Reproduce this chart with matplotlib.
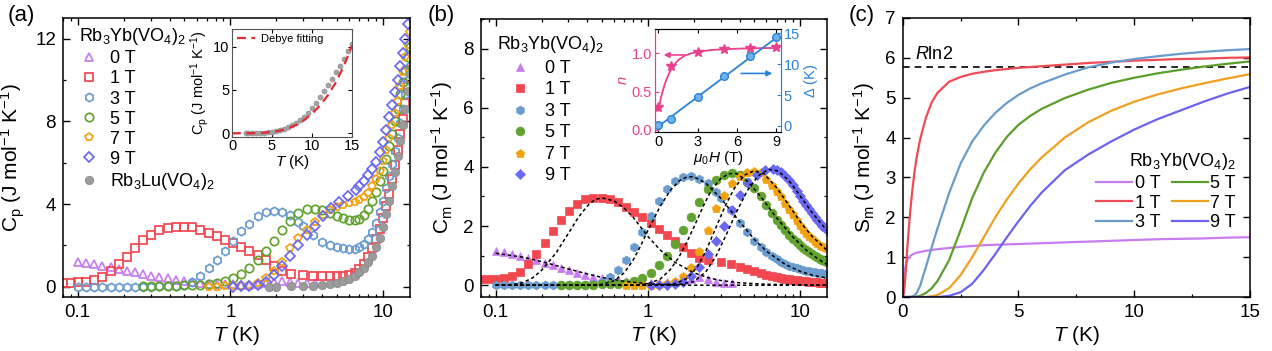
import matplotlib
matplotlib.use("Agg")
import matplotlib.pyplot as plt
from matplotlib.ticker import MultipleLocator, FixedLocator, FixedFormatter, LogLocator, NullFormatter

plt.rcParams["font.family"] = ["Liberation Sans", "DejaVu Sans"]
plt.rcParams["mathtext.fontset"] = "custom"
plt.rcParams["mathtext.rm"] = "Liberation Sans"
plt.rcParams["mathtext.it"] = "Liberation Sans:italic"
plt.rcParams["mathtext.bf"] = "Liberation Sans:bold"
plt.rcParams["xtick.direction"] = "in"
plt.rcParams["ytick.direction"] = "in"
plt.rcParams["xtick.top"] = True
plt.rcParams["ytick.right"] = True
plt.rcParams["axes.linewidth"] = 1.1

# ---------------- data ----------------
# temperature grids (K)
t_log = [0.080, 0.090, 0.100, 0.113, 0.128, 0.145, 0.164, 0.185, 0.210, 0.237,
         0.268, 0.303, 0.343, 0.388, 0.439, 0.497, 0.562, 0.636, 0.719, 0.813,
         0.920, 1.04, 1.18, 1.33, 1.51, 1.70, 1.93, 2.18, 2.47, 2.79,
         3.16, 3.57, 4.04, 4.57, 5.17, 5.85, 6.61]
t_step = [2.0, 2.5, 3.0, 3.5, 4.0, 4.5, 5.0, 5.5, 6.0, 6.5, 7.0, 7.5, 8.0, 8.5,
          9.0, 9.5, 10.0, 10.5, 11.0, 11.5, 12.0, 12.5, 13.0, 13.5, 14.0, 14.5, 15.0]

t_0T = t_log[2:32]
t_1T = t_log[0:28] + t_step[1:]
t_3T = t_log[2:30] + t_step[2:]
t_5T = t_log[10:32] + t_step[4:]
t_7T = t_log[18:33] + t_step[5:]
t_9T = t_log[21:37] + t_step[10:]
t_gray = [1.8] + t_step

# panel (a): total specific heat Cp
cp_0T = [1.20, 1.15, 1.08, 1.00, 0.93, 0.86, 0.78, 0.70, 0.62, 0.54,
         0.47, 0.40, 0.33, 0.27, 0.22, 0.18, 0.15, 0.13, 0.12, 0.11,
         0.10, 0.10, 0.12, 0.16, 0.22, 0.28, 0.24, 0.18, 0.16, 0.16]
cp_1T = [0.20, 0.20, 0.21, 0.24, 0.30, 0.45, 0.75, 1.10, 1.45, 1.85,
         2.25, 2.50, 2.72, 2.84, 2.88, 2.90, 2.88, 2.75, 2.60, 2.45,
         2.28, 2.10, 1.92, 1.72, 1.52, 1.30, 1.02, 0.76] + \
        [0.62, 0.55, 0.52, 0.50, 0.50, 0.50, 0.52, 0.58, 0.68, 0.85,
         1.12, 1.45, 1.85, 2.30, 2.80, 3.30, 3.90, 4.50, 5.20, 5.90,
         6.60, 7.40, 8.10, 8.90, 9.70, 10.50]
cp_3T = [0.00, 0.00, 0.00, 0.00, 0.00, 0.00, 0.00, 0.00, 0.00, 0.00, 0.01, 0.01,
         0.02, 0.10, 0.25, 0.50, 0.88, 1.28, 1.72, 2.20, 2.68, 3.05, 3.40, 3.60,
         3.66, 3.63, 3.45, 3.15] + \
        [2.95, 2.50, 2.18, 2.00, 1.90, 1.85, 1.83, 1.84, 1.90, 2.05,
         2.30, 2.65, 3.10, 3.60, 4.15, 4.75, 5.35, 5.95, 6.55, 7.20,
         7.90, 8.60, 9.30, 10.00, 10.70]
cp_5T = [0.03, 0.03, 0.04, 0.04, 0.05, 0.06, 0.07, 0.09, 0.12, 0.18, 0.28,
         0.42, 0.62, 0.90, 1.30, 1.75, 2.20, 2.72, 3.20, 3.55, 3.74, 3.77] + \
        [3.70, 3.56, 3.42, 3.30, 3.24, 3.22, 3.28, 3.45, 3.75, 4.15, 4.60, 5.10,
         5.60, 6.20, 6.80, 7.40, 8.00, 8.60, 9.30, 9.90, 10.50, 11.10, 11.60]
cp_7T = [0.00, 0.00, 0.01, 0.02, 0.05, 0.10, 0.20, 0.40, 0.75, 1.20, 1.85,
         2.35, 2.75, 3.15, 3.45] + \
        [3.70, 3.85, 3.95, 4.03, 4.10, 4.20, 4.35, 4.55, 4.85, 5.20, 5.60,
         6.10, 6.60, 7.20, 7.80, 8.40, 9.00, 9.70, 10.40, 11.10, 11.70, 12.30]
cp_9T = [0.00, 0.01, 0.03, 0.08, 0.22, 0.55, 1.00, 1.50, 2.00, 2.52, 2.95,
         3.40, 3.80, 4.12, 4.38, 4.66] + \
        [4.85, 5.10, 5.40, 5.70, 6.05, 6.50, 7.00, 7.60, 8.20, 8.80, 9.40,
         10.00, 10.70, 11.30, 12.00, 12.70, 13.40]
cp_gray = [0.00, 0.00, 0.01, 0.03, 0.05, 0.08, 0.13, 0.20, 0.28, 0.38, 0.52,
           0.70, 0.92, 1.18, 1.50, 1.90, 2.35, 2.90, 3.50, 4.15, 4.85, 5.55,
           6.30, 7.05, 7.80, 8.60, 9.45, 10.30]

# inset (a): Debye fit
t_debye = [0, 1, 2, 3, 4, 5, 6, 7, 8, 9, 10, 11, 12, 13, 14, 15]
cp_debye = [0.0, 0.0, 0.0, 0.02, 0.06, 0.15, 0.30, 0.55, 0.95, 1.50, 2.25,
            3.20, 4.40, 5.90, 7.80, 10.10]

# panel (b): magnetic specific heat Cm
cm_0T = [1.16, 1.12, 1.07, 1.00, 0.93, 0.85, 0.76, 0.67, 0.58, 0.50,
         0.42, 0.35, 0.29, 0.24, 0.20, 0.16, 0.13, 0.11, 0.10, 0.09,
         0.09, 0.10, 0.12, 0.16, 0.22, 0.27, 0.20, 0.12, 0.08, 0.06]
cm_1T = [0.20, 0.20, 0.21, 0.24, 0.30, 0.45, 0.70, 1.05, 1.42, 1.82,
         2.20, 2.52, 2.76, 2.90, 2.95, 2.95, 2.90, 2.80, 2.65, 2.48,
         2.30, 2.10, 1.90, 1.70, 1.50, 1.30, 1.10, 0.93] + \
        [0.85, 0.78, 0.72, 0.62, 0.54, 0.47, 0.41, 0.36, 0.32, 0.28,
         0.25, 0.22, 0.20, 0.18, 0.16, 0.15, 0.14, 0.13, 0.12, 0.11,
         0.10, 0.10, 0.09, 0.09, 0.08, 0.08]
cm_3T = [0.00, 0.00, 0.00, 0.00, 0.00, 0.00, 0.00, 0.00, 0.00, 0.00, 0.01, 0.02,
         0.05, 0.12, 0.28, 0.52, 0.85, 1.30, 1.80, 2.35, 2.85, 3.25, 3.52, 3.66,
         3.68, 3.60, 3.45, 3.15] + \
        [2.95, 2.55, 2.10, 1.80, 1.50, 1.30, 1.13, 0.99, 0.88, 0.79,
         0.72, 0.66, 0.61, 0.57, 0.54, 0.51, 0.49, 0.47, 0.45, 0.43,
         0.42, 0.41, 0.40, 0.39, 0.38]
cm_5T = [0.00, 0.01, 0.01, 0.02, 0.02, 0.03, 0.04, 0.05, 0.08, 0.14, 0.25,
         0.42, 0.68, 1.00, 1.40, 1.85, 2.30, 2.80, 3.25, 3.56, 3.73, 3.78] + \
        [3.72, 3.50, 3.28, 3.00, 2.70, 2.45, 2.22, 2.02, 1.85, 1.70, 1.57, 1.45,
         1.35, 1.26, 1.18, 1.11, 1.05, 0.99, 0.94, 0.90, 0.86, 0.82, 0.78]
cm_7T = [0.00, 0.00, 0.00, 0.01, 0.03, 0.07, 0.15, 0.30, 0.60, 1.15, 1.85,
         2.60, 3.05, 3.45, 3.68] + \
        [3.82, 3.87, 3.82, 3.60, 3.40, 3.20, 3.00, 2.78, 2.58, 2.40, 2.20,
         2.03, 1.90, 1.78, 1.68, 1.58, 1.50, 1.43, 1.37, 1.32, 1.28, 1.25]
cm_9T = [0.00, 0.00, 0.01, 0.04, 0.12, 0.30, 0.60, 1.05, 1.50, 2.00, 2.55,
         3.05, 3.45, 3.72, 3.90, 3.93] + \
        [3.90, 3.82, 3.70, 3.55, 3.38, 3.20, 3.02, 2.86, 2.72, 2.58, 2.45,
         2.32, 2.20, 2.10, 2.00, 1.92, 1.85]

# panel (b): Schottky fits
fit_t_0T = [0.10, 0.15, 0.20, 0.30, 0.40, 0.50, 0.70, 1.0, 1.5, 2.0, 15.0]
fit_0T = [1.08, 0.95, 0.80, 0.55, 0.38, 0.26, 0.13, 0.05, 0.01, 0.0, 0.0]
fit_t_1T = [0.10, 0.13, 0.15, 0.175, 0.20, 0.25, 0.30, 0.35, 0.40, 0.45, 0.50, 0.60,
            0.70, 0.80, 0.90, 1.0, 1.2, 1.5, 2.0, 2.5, 3.0, 4.0, 6.0, 15.0]
fit_1T = [0.0, 0.02, 0.08, 0.25, 0.50, 1.10, 1.75, 2.30, 2.68, 2.90, 2.95, 2.85,
          2.60, 2.30, 1.95, 1.65, 1.20, 0.78, 0.42, 0.25, 0.16, 0.08, 0.03, 0.0]
fit_t_3T = [0.10, 0.40, 0.50, 0.60, 0.70, 0.80, 0.90, 1.0, 1.2, 1.4, 1.6, 1.8,
            2.0, 2.4, 3.0, 4.0, 5.0, 6.0, 8.0, 10.0, 12.0, 15.0]
fit_3T = [0.0, 0.0, 0.03, 0.15, 0.42, 0.85, 1.35, 1.85, 2.65, 3.20, 3.52, 3.66,
          3.67, 3.45, 2.95, 2.15, 1.55, 1.15, 0.70, 0.47, 0.34, 0.24]
fit_t_5T = [0.10, 0.80, 1.0, 1.2, 1.4, 1.6, 1.8, 2.0, 2.3, 2.6, 3.0, 3.4, 3.8,
            4.5, 5.5, 7.0, 9.0, 11.0, 13.0, 15.0]
fit_5T = [0.0, 0.0, 0.05, 0.20, 0.52, 0.95, 1.45, 1.95, 2.65, 3.20, 3.60, 3.77,
          3.78, 3.52, 3.00, 2.28, 1.62, 1.18, 0.90, 0.70]
fit_t_7T = [0.10, 1.2, 1.5, 1.8, 2.1, 2.4, 2.8, 3.2, 3.7, 4.3, 5.0, 5.8, 7.0,
            8.5, 10.0, 12.0, 15.0]
fit_7T = [0.0, 0.0, 0.05, 0.22, 0.60, 1.15, 1.95, 2.65, 3.28, 3.72, 3.87, 3.76,
          3.30, 2.68, 2.15, 1.65, 1.18]
fit_t_9T = [0.10, 1.5, 2.0, 2.4, 2.8, 3.3, 3.8, 4.5, 5.3, 6.2, 7.2, 8.5, 10.0,
            12.0, 15.0]
fit_9T = [0.0, 0.0, 0.12, 0.45, 0.98, 1.75, 2.45, 3.20, 3.70, 3.92, 3.86, 3.52,
          3.02, 2.45, 1.85]

# inset (b): n and gap vs field
field = [0, 1, 3, 5, 7, 9]
n_vals = [0.30, 0.83, 1.02, 1.06, 1.07, 1.08]
delta_vals = [0.2, 1.1, 4.6, 8.1, 11.3, 14.4]
n_fit_h = [0, 0.25, 0.5, 0.75, 1.0, 1.5, 2.0, 2.5, 3.0, 4.0, 5.0, 6.0, 7.0, 8.0, 9.0]
n_fit = [0.25, 0.45, 0.60, 0.71, 0.80, 0.91, 0.97, 1.00, 1.02, 1.045, 1.055,
         1.062, 1.067, 1.07, 1.072]
delta_fit_h = [0, 9]
delta_fit = [-0.1, 14.3]

# panel (c): magnetic entropy
t_s = [0, 0.05, 0.1, 0.15, 0.2, 0.3, 0.4, 0.5, 0.6, 0.75, 1.0, 1.25, 1.5, 2.0,
       2.5, 3.0, 3.5, 4.0, 4.5, 5.0, 5.5, 6.0, 7.0, 8.0, 9.0, 10.0, 11.0,
       12.0, 13.0, 14.0, 15.0]
s_0T = [0.0, 0.35, 0.70, 0.85, 0.93, 1.02, 1.06, 1.09, 1.11, 1.13, 1.16, 1.18,
        1.20, 1.23, 1.26, 1.28, 1.30, 1.31, 1.32, 1.33, 1.34, 1.35, 1.37, 1.39,
        1.41, 1.43, 1.45, 1.46, 1.47, 1.49, 1.50]
s_1T = [0.0, 0.10, 0.40, 0.80, 1.25, 2.00, 2.60, 3.10, 3.50, 3.95, 4.50, 4.88,
        5.12, 5.40, 5.52, 5.60, 5.65, 5.69, 5.72, 5.75, 5.77, 5.79, 5.83, 5.87,
        5.90, 5.93, 5.95, 5.97, 5.98, 6.00, 6.01]
s_3T = [0.0, 0.0, 0.0, 0.0, 0.0, 0.0, 0.01, 0.04, 0.10, 0.28, 0.75, 1.25,
        1.72, 2.60, 3.35, 3.90, 4.30, 4.62, 4.87, 5.07, 5.23, 5.36, 5.58, 5.76,
        5.88, 5.97, 6.04, 6.10, 6.15, 6.19, 6.22]
s_5T = [0.0, 0.0, 0.0, 0.0, 0.0, 0.0, 0.0, 0.0, 0.01, 0.03, 0.10, 0.22,
        0.40, 0.92, 1.68, 2.48, 3.12, 3.62, 4.02, 4.32, 4.54, 4.72, 4.99, 5.20,
        5.37, 5.50, 5.61, 5.70, 5.78, 5.85, 5.91]
s_7T = [0.0, 0.0, 0.0, 0.0, 0.0, 0.0, 0.0, 0.0, 0.0, 0.0, 0.0, 0.02,
        0.05, 0.22, 0.55, 1.00, 1.50, 2.00, 2.45, 2.85, 3.20, 3.50, 4.00, 4.38,
        4.67, 4.90, 5.08, 5.23, 5.36, 5.48, 5.59]
s_9T = [0.0, 0.0, 0.0, 0.0, 0.0, 0.0, 0.0, 0.0, 0.0, 0.0, 0.0, 0.0,
        0.0, 0.03, 0.12, 0.33, 0.68, 1.08, 1.50, 1.90, 2.28, 2.62, 3.18, 3.57,
        3.90, 4.20, 4.46, 4.68, 4.90, 5.10, 5.27]
rln2 = 5.76

field_labels = ["0 T", "1 T", "3 T", "5 T", "7 T", "9 T"]
colors = ["#c77cf0", "#f2474f", "#6a9ccf", "#62a22e", "#f2a20f", "#6b69f2"]
line_colors = ["#c77cf0", "#ef4b55", "#6a9ccb", "#5c9e2e", "#f0a020", "#6c63f0"]
markers = ["^", "s", "h", "o", "p", "D"]
gray = "#9b9b9b"
pink = "#ea3f8c"
blue = "#2a82d8"

TICK = 13.5
LABEL = 15
LEG = 13
yb_title = r"Rb$_3$Yb(VO$_4$)$_2$"


def style_log_x(ax):
    ax.set_xscale("log")
    ax.set_xlim(0.08, 15)
    ax.xaxis.set_major_locator(FixedLocator([0.1, 1, 10]))
    ax.xaxis.set_major_formatter(FixedFormatter(["0.1", "1", "10"]))
    ax.xaxis.set_minor_locator(LogLocator(base=10, subs=[2, 3, 4, 5, 6, 7, 8, 9]))
    ax.xaxis.set_minor_formatter(NullFormatter())


def style_ticks(ax, size=TICK):
    ax.tick_params(which="major", length=5, width=1.0, labelsize=size, pad=5)
    ax.tick_params(which="minor", length=2.5, width=0.9)


fig = plt.figure(figsize=(12.72, 3.51), dpi=100)

# ---------------- panel (a) ----------------
ax_a = fig.add_axes([0.0495, 0.1538, 0.2728, 0.795])
temps = [t_0T, t_1T, t_3T, t_5T, t_7T, t_9T]
cps = [cp_0T, cp_1T, cp_3T, cp_5T, cp_7T, cp_9T]
for t, c, col, m, lab in zip(temps, cps, colors, markers, field_labels):
    ms = 5.0 if m == "D" else 6.0
    ax_a.plot(t, c, ls="none", marker=m, mfc="none", mec=col, mew=1.25, ms=ms, label=lab)
ax_a.plot(t_gray, cp_gray, ls="none", marker="o", mfc=gray, mec="#8d8d8d", mew=0.6,
          ms=6.0, label=r"Rb$_3$Lu(VO$_4$)$_2$")
style_log_x(ax_a)
ax_a.set_ylim(-0.5, 13)
ax_a.yaxis.set_major_locator(MultipleLocator(4))
ax_a.yaxis.set_minor_locator(MultipleLocator(2))
style_ticks(ax_a)
ax_a.set_xlabel(r"$T$ (K)", fontsize=LABEL, labelpad=2)
ax_a.set_ylabel(r"C$_{\rm p}$ (J mol$^{-1}$ K$^{-1}$)", fontsize=LABEL, labelpad=6)
ax_a.legend(title=yb_title, loc="upper left", bbox_to_anchor=(0.045, 0.97),
            frameon=False, fontsize=LEG, title_fontsize=LEG, alignment="left",
            handlelength=1.1, handletextpad=0.65, labelspacing=0.17,
            borderaxespad=0, borderpad=0)

# inset (a)
ax_ai = fig.add_axes([0.1824, 0.6105, 0.0943, 0.306])
ax_ai.plot(t_gray, cp_gray, ls="none", marker="o", mfc="#a3a3a3", mec="#8f8f8f",
           mew=0.5, ms=3.6)
ax_ai.plot(t_debye, cp_debye, color="#e52a33", lw=1.6, dashes=(4, 2.5),
           label="Debye fitting")
ax_ai.set_xlim(0, 15)
ax_ai.set_ylim(-0.4, 12)
ax_ai.xaxis.set_major_locator(MultipleLocator(5))
ax_ai.yaxis.set_major_locator(MultipleLocator(5))
ax_ai.tick_params(which="major", length=3, width=0.8, labelsize=10.5, pad=2)
for sp in ax_ai.spines.values():
    sp.set_linewidth(0.8)
    sp.set_color("#555555")
ax_ai.set_xlabel(r"$T$ (K)", fontsize=11, labelpad=0)
ax_ai.set_ylabel(r"C$_{\rm p}$ (J mol$^{-1}$ K$^{-1}$)", fontsize=10.5, labelpad=1)
ax_ai.legend(loc="upper left", frameon=False, fontsize=8, handlelength=1.6,
             handletextpad=0.6, borderaxespad=0.25, borderpad=0.2)

# ---------------- panel (b) ----------------
ax_b = fig.add_axes([0.3781, 0.1538, 0.2720, 0.792])
cms = [cm_0T, cm_1T, cm_3T, cm_5T, cm_7T, cm_9T]
for t, c, col, m, lab in zip(temps, cms, colors, markers, field_labels):
    ms = 5.3 if m == "D" else 6.3
    ax_b.plot(t, c, ls="none", marker=m, color=col, mec=col, mew=0.5, ms=ms, label=lab)
fit_ts = [fit_t_0T, fit_t_1T, fit_t_3T, fit_t_5T, fit_t_7T, fit_t_9T]
fits = [fit_0T, fit_1T, fit_3T, fit_5T, fit_7T, fit_9T]
for ft, fv in zip(fit_ts, fits):
    ax_b.plot(ft, fv, color="k", lw=1.1, dashes=(2.2, 1.8), zorder=5)
style_log_x(ax_b)
ax_b.set_ylim(-0.4, 9)
ax_b.yaxis.set_major_locator(MultipleLocator(2))
ax_b.yaxis.set_minor_locator(MultipleLocator(1))
style_ticks(ax_b)
ax_b.set_xlabel(r"$T$ (K)", fontsize=LABEL, labelpad=2)
ax_b.set_ylabel(r"C$_{\rm m}$ (J mol$^{-1}$ K$^{-1}$)", fontsize=LABEL, labelpad=6)
ax_b.legend(title=yb_title, loc="upper left", bbox_to_anchor=(0.045, 0.945),
            frameon=False, fontsize=LEG, title_fontsize=LEG, alignment="left",
            handlelength=2.6, handletextpad=0.1, labelspacing=0.25,
            borderaxespad=0, borderpad=0)

# inset (b)
ax_bi = fig.add_axes([0.5149, 0.6239, 0.0991, 0.2934])
ax_bi2 = ax_bi.twinx()
ax_bi.plot(n_fit_h, n_fit, color=pink, lw=1.3)
ax_bi.plot(field, n_vals, ls="none", marker="*", color=pink, ms=7.5)
ax_bi2.plot(delta_fit_h, delta_fit, color=blue, lw=1.3)
ax_bi2.plot(field, delta_vals, ls="none", marker="o", mfc="#6fb2ee", mec=blue,
            mew=1.0, ms=5.5)
ax_bi.set_xlim(-0.25, 9.35)
ax_bi.set_ylim(-0.03, 1.32)
ax_bi2.set_ylim(-1.0, 15.7)
ax_bi.xaxis.set_major_locator(MultipleLocator(3))
ax_bi.yaxis.set_major_locator(MultipleLocator(0.5))
ax_bi2.yaxis.set_major_locator(MultipleLocator(5))
ax_bi.tick_params(axis="y", which="both", right=False, colors=pink)
ax_bi2.tick_params(axis="y", which="both", left=False, colors=blue)
ax_bi.tick_params(axis="x", top=True)
for a in (ax_bi, ax_bi2):
    a.tick_params(which="major", length=3, width=0.8, labelsize=10.5, pad=2)
    a.spines["left"].set_color(pink)
    a.spines["right"].set_color(blue)
    for sp in a.spines.values():
        sp.set_linewidth(0.8)
ax_bi.set_ylabel(r"$n$", fontsize=10.5, color=pink, labelpad=1)
ax_bi2.set_ylabel(r"$\Delta$ (K)", fontsize=10.5, color=blue, labelpad=1)
ax_bi.set_xlabel(r"$\mu_0H$ (T)", fontsize=11, labelpad=0)
ax_bi.annotate("", xy=(0.2, 0.98), xytext=(2.2, 0.98),
               arrowprops=dict(arrowstyle="-|>", color=pink, lw=1.2, mutation_scale=8))
ax_bi2.annotate("", xy=(8.9, 8.5), xytext=(6.1, 8.5),
                arrowprops=dict(arrowstyle="-|>", color=blue, lw=1.2, mutation_scale=8))

# ---------------- panel (c) ----------------
ax_c = fig.add_axes([0.7097, 0.1538, 0.2730, 0.795])
ss = [s_0T, s_1T, s_3T, s_5T, s_7T, s_9T]
for s, col, lab in zip(ss, line_colors, field_labels):
    ax_c.plot(t_s, s, color=col, lw=1.6, label=lab)
ax_c.axhline(rln2, color="k", lw=1.2, dashes=(4, 3), zorder=1)
ax_c.text(0.55, rln2 + 0.2, r"$R$ln2", fontsize=LEG)
ax_c.set_xlim(0, 15)
ax_c.set_ylim(0, 7)
ax_c.xaxis.set_major_locator(MultipleLocator(5))
ax_c.xaxis.set_minor_locator(MultipleLocator(2.5))
ax_c.yaxis.set_major_locator(MultipleLocator(1))
style_ticks(ax_c)
ax_c.set_xlabel(r"$T$ (K)", fontsize=LABEL, labelpad=2)
ax_c.set_ylabel(r"S$_{\rm m}$ (J mol$^{-1}$ K$^{-1}$)", fontsize=LABEL, labelpad=6)
ax_c.legend(title=yb_title, loc="lower right", bbox_to_anchor=(0.96, 0.235), ncol=2,
            frameon=False, fontsize=LEG, title_fontsize=LEG, alignment="right",
            handlelength=2.0, handletextpad=0.15, columnspacing=0.6,
            labelspacing=0.15, borderaxespad=0, borderpad=0)

# panel labels
fig.text(0.006, 0.955, "(a)", fontsize=16, va="center")
fig.text(0.336, 0.955, "(b)", fontsize=16, va="center")
fig.text(0.667, 0.955, "(c)", fontsize=16, va="center")

fig.savefig("out.png", dpi=100)
